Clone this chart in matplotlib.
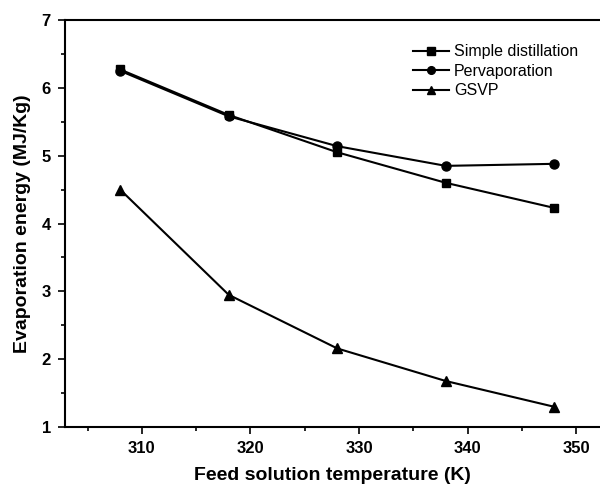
import matplotlib
matplotlib.use("Agg")
import matplotlib.pyplot as plt
from matplotlib.ticker import MultipleLocator

plt.rcParams['font.family'] = ['Liberation Sans', 'DejaVu Sans']

temperature = [308, 318, 328, 338, 348]
simple_distillation = [6.27, 5.60, 5.05, 4.60, 4.23]
pervaporation = [6.25, 5.58, 5.14, 4.85, 4.88]
gsvp = [4.50, 2.95, 2.16, 1.68, 1.30]

fig = plt.figure(figsize=(6, 4.86), dpi=100)
ax = fig.add_axes([0.108, 0.121, 0.892, 0.838])

ax.plot(temperature, simple_distillation, '-s', color='black', lw=1.5, ms=6, label='Simple distillation')
ax.plot(temperature, pervaporation, '-o', color='black', lw=1.5, ms=6.5, label='Pervaporation')
ax.plot(temperature, gsvp, '-^', color='black', lw=1.5, ms=7, label='GSVP')

ax.set_xlim(302.9, 352.2)
ax.set_ylim(1, 7)
ax.xaxis.set_major_locator(MultipleLocator(10))
ax.xaxis.set_minor_locator(MultipleLocator(5))
ax.yaxis.set_major_locator(MultipleLocator(1))
ax.yaxis.set_minor_locator(MultipleLocator(0.5))
ax.tick_params(which='major', direction='out', length=5, width=1.2, labelsize=12, pad=5)
ax.tick_params(which='minor', direction='out', length=3, width=1.2)
for lbl in ax.get_xticklabels() + ax.get_yticklabels():
    lbl.set_fontweight('bold')

ax.spines['right'].set_visible(False)
for s in ['left', 'bottom', 'top']:
    ax.spines[s].set_linewidth(1.5)

ax.set_xlabel('Feed solution temperature (K)', fontsize=14, fontweight='bold', labelpad=8)
ax.set_ylabel('Evaporation energy (MJ/Kg)', fontsize=14, fontweight='bold', labelpad=8)

ax.legend(loc='upper left', bbox_to_anchor=(0.65, 0.94), frameon=False, fontsize=11.5,
          handlelength=2.3, handletextpad=0.3, labelspacing=0.28, borderaxespad=0,
          borderpad=0, markerscale=0.85)

fig.savefig('out.png', dpi=100)
